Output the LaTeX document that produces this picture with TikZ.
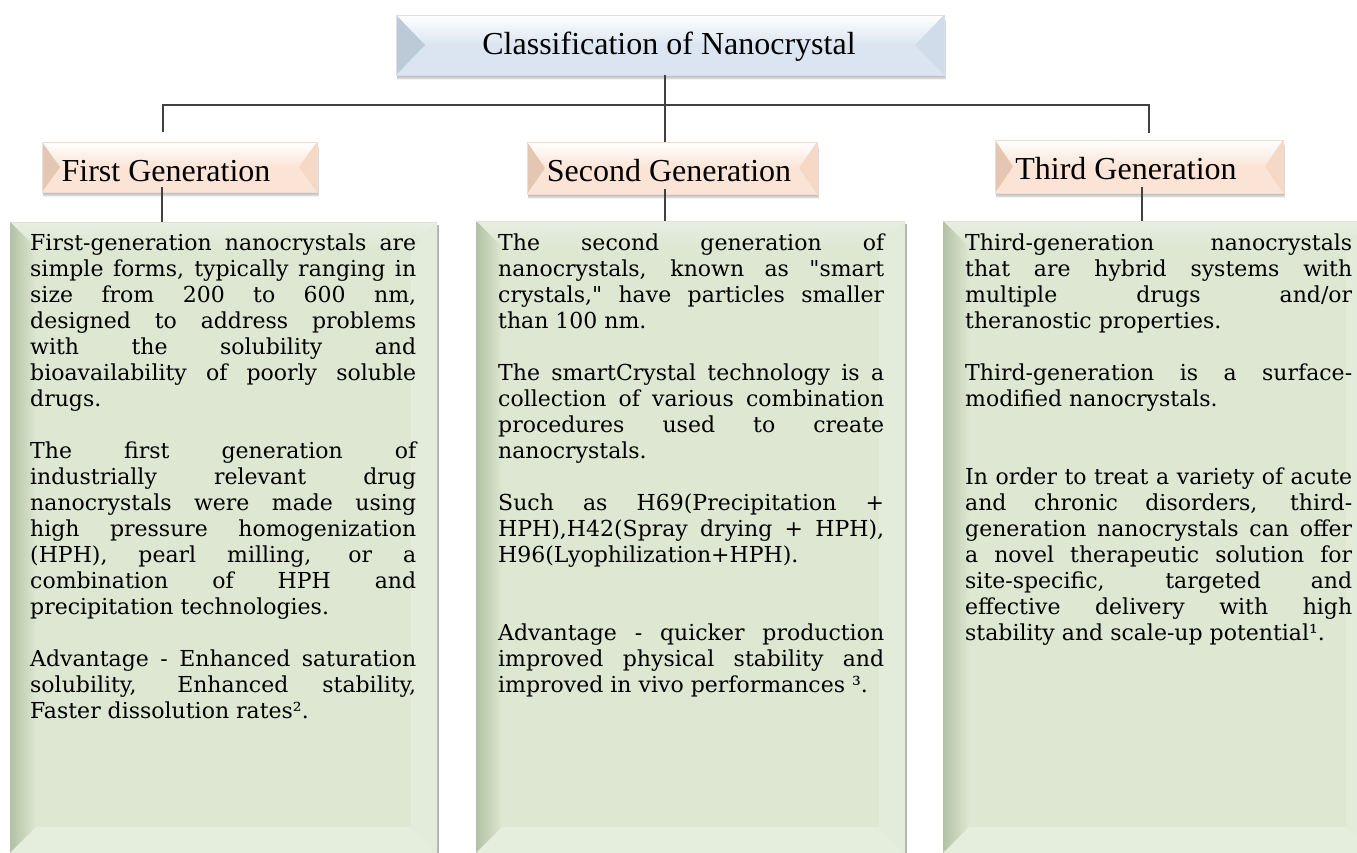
\documentclass[tikz,border=0pt]{standalone}
\usepackage{fontspec}
\setmainfont{Liberation Serif}
\newfontfamily\bodyfont{DejaVu Serif}
\usetikzlibrary{calc}
\definecolor{tbase}{HTML}{DBE5F1}
\definecolor{tleft}{HTML}{BCCAD8}
\definecolor{tright}{HTML}{D0DCEA}
\definecolor{hbase}{HTML}{FBE4D5}
\definecolor{hleft}{HTML}{E4C7B3}
\definecolor{hright}{HTML}{F5D8C5}
\definecolor{gbase}{HTML}{DDE7D2}
\definecolor{gtop}{HTML}{E8EFE1}
\definecolor{gleft}{HTML}{B2C2A4}
\definecolor{gright}{HTML}{E3EBDA}
\definecolor{gbot}{HTML}{E5EDDD}
\definecolor{lineclr}{HTML}{404040}
\newcommand\bodyset{\bodyfont\fontsize{22}{26}\selectfont
  \tolerance=10000 \hyphenpenalty=10000 \exhyphenpenalty=10000 \relax}
\newcommand\headbevel[6]{%
  \foreach \s in {1,...,6}{\fill[black,opacity=.05] ({#1+1},{#2+\s}) rectangle ({#3+\s*.4},{#4+\s*.9});}
  \fill[#6base] (#1,#2) rectangle (#3,#4);
  \shade[top color=white,bottom color=#6base] (#1,#2) -- (#3,#2) -- ({#3-#5},{(#2+#4)/2}) -- ({#1+#5},{(#2+#4)/2}) -- cycle;
  \fill[#6left] (#1,#2) -- ({#1+#5},{(#2+#4)/2}) -- (#1,#4) -- cycle;
  \fill[#6right] (#3,#2) -- ({#3-#5},{(#2+#4)/2}) -- (#3,#4) -- cycle;
  \draw[#6left!60!white, line width=.6pt] (#1,#2) rectangle (#3,#4);
}
\newcommand\bodybevel[5]{%
  \fill[black!30] ({#3},{#2+3}) rectangle ({#3+2},{#4});
  \fill[gbase] (#1,#2) rectangle (#3,#4);
  \shade[top color=gtop, bottom color=gbase] (#1,#2) -- (#3,#2) -- ({#3-#5},{#2+#5}) -- ({#1+#5},{#2+#5}) -- cycle;
  \shade[left color=gleft, right color=gbase] (#1,#2) -- ({#1+#5},{#2+#5}) -- ({#1+#5},{#4-#5}) -- (#1,#4) -- cycle;
  \fill[gright] (#3,#2) -- ({#3-#5},{#2+#5}) -- ({#3-#5},{#4-#5}) -- (#3,#4) -- cycle;
  \fill[gbot] (#1,#4) -- ({#1+#5},{#4-#5}) -- ({#3-#5},{#4-#5}) -- (#3,#4) -- cycle;
  \draw[black!12] (#1,#2) -- (#3,#2);
}
\tikzset{
  conn/.style={draw=lineclr, line width=1.4pt},
  frame/.style={inner sep=0pt, outer sep=0pt, anchor=north west},
  headtext/.style={anchor=base, inner sep=0pt, font=\fontsize{32}{36}\selectfont},
  bodytext/.style={anchor=north west, inner sep=0pt, align=justify, font=\bodyset}
}
\begin{document}
\begin{tikzpicture}[x=1pt,y=-1pt]
\useasboundingbox (0,0) rectangle (1357,853);
\fill[white] (0,0) rectangle (1357,853);
% frames (named nodes)
\node[frame, minimum width=548, minimum height=60] (t) at (396,15) {};
\node[frame, minimum width=275, minimum height=50] (h1) at (42,142) {};
\node[frame, minimum width=290, minimum height=52] (h2) at (527,142) {};
\node[frame, minimum width=288, minimum height=53] (h3) at (995,140) {};
\node[frame, minimum width=427, minimum height=631] (b1) at (10,222) {};
\node[frame, minimum width=429, minimum height=632] (b2) at (476,221) {};
\node[frame, minimum width=429, minimum height=632] (b3) at (943,221) {};
% backgrounds
\headbevel{396}{15}{944}{75}{29}{t}
\headbevel{42}{142}{317}{192}{18}{h}
\headbevel{527}{142}{817}{194}{18}{h}
\headbevel{995}{140}{1283}{193}{18}{h}
\bodybevel{10}{222}{437}{853}{26}
\bodybevel{476}{221}{905}{853}{26}
\bodybevel{943}{221}{1372}{853}{26}
% connector coordinates
\coordinate (j1) at (163,105);
\coordinate (j3) at (1149,105);
\coordinate (e1) at (163,132);
\coordinate (e3) at (1149,133);
\coordinate (d1) at (162,187);
\coordinate (f1) at (162,222);
\coordinate (d2) at (665,189);
\coordinate (f2) at (665,221);
\coordinate (d3) at (1142,187);
\coordinate (f3) at (1142,221);
\draw[conn] (t.south -| d2) -- (h2.north -| d2);
\draw[conn] (e1) -- (j1) -- (j3) -- (e3);
\draw[conn] (d1) -- (f1);
\draw[conn] (d2) -- (f2);
\draw[conn] (d3) -- (f3);
% titles
\node[headtext] (tt) at (669,55) {Classification of Nanocrystal};
\node[headtext] (h1t) at (166,182) {First Generation};
\node[headtext] (h2t) at (669,182) {Second Generation};
\node[headtext] (h3t) at (1126,180) {Third Generation};
% body texts
\node[bodytext, text width=386pt] (b1t) at (30,231.8) {\strut First-generation nanocrystals are\linebreak
simple forms, typically ranging in\linebreak
size from 200 to 600 nm,\linebreak
designed to address problems\linebreak
with the solubility and\linebreak
bioavailability of poorly soluble\linebreak
drugs.\par\vskip26pt
The first generation of\linebreak
industrially relevant drug\linebreak
nanocrystals were made using\linebreak
high pressure homogenization\linebreak
(HPH), pearl milling, or a\linebreak
combination of HPH and\linebreak
precipitation technologies.\par\vskip26pt
Advantage - Enhanced saturation\linebreak
solubility, Enhanced stability,\linebreak
Faster dissolution rates².};
\node[bodytext, text width=386pt] (b2t) at (498,231.8) {\strut The second generation of\linebreak
nanocrystals, known as "smart\linebreak
crystals," have particles smaller\linebreak
than 100 nm.\par\vskip26pt
The smartCrystal technology is a\linebreak
collection of various combination\linebreak
procedures used to create\linebreak
nanocrystals.\par\vskip26pt
Such as H69(Precipitation +\linebreak
HPH),H42(Spray drying + HPH),\linebreak
H96(Lyophilization+HPH).\par\vskip52pt
Advantage - quicker production\linebreak
improved physical stability and\linebreak
improved in vivo performances ³.};
\node[bodytext, text width=387pt] (b3t) at (965,231.8) {\strut Third-generation nanocrystals\linebreak
that are hybrid systems with\linebreak
multiple drugs and/or\linebreak
theranostic properties.\par\vskip26pt
Third-generation is a surface-\linebreak
modified nanocrystals.\par\vskip52pt
In order to treat a variety of acute\linebreak
and chronic disorders, third-\linebreak
generation nanocrystals can offer\linebreak
a novel therapeutic solution for\linebreak
site-specific, targeted and\linebreak
effective delivery with high\linebreak
stability and scale-up potential¹.};
\end{tikzpicture}
\end{document}
